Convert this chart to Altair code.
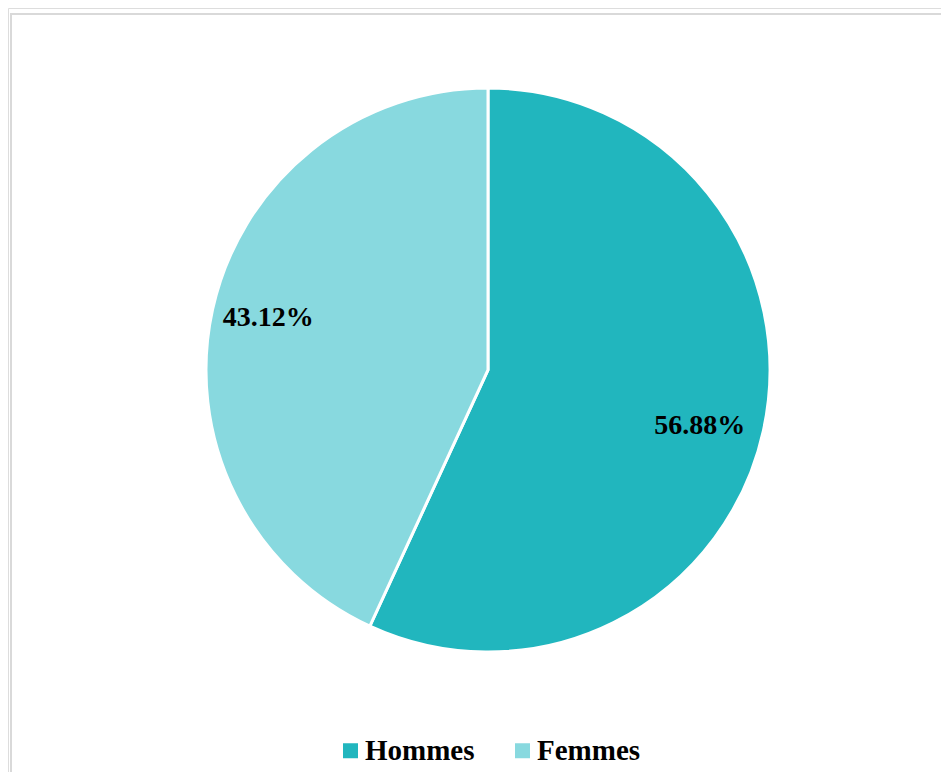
import altair as alt
import pandas as pd

categories = ["Hommes", "Femmes"]
values = [56.88, 43.12]
labels = ["56.88%", "43.12%"]
colors = ["#21B6BE", "#88D9DF"]
order = [0, 1]

df = pd.DataFrame({"cat": categories, "value": values, "label": labels, "ord": order})

W, H = 933, 764
CX, CY = 480, 362
R = 282
FONT = "Liberation Serif"

theta_scale = alt.Scale(domain=[0, 100], range=[0, 6.283185307179586])

base = (
    alt.Chart(df)
    .transform_window(end="sum(value)", sort=[alt.SortField("ord")])
    .transform_calculate(start="datum.end - datum.value", mid="datum.end - datum.value / 2")
)

pie = base.mark_arc(outerRadius=R, stroke="white", strokeWidth=3, x=CX, y=CY).encode(
    theta=alt.Theta("start:Q", scale=theta_scale),
    theta2="end:Q",
    color=alt.Color(
        "cat:N",
        scale=alt.Scale(domain=categories, range=colors),
        sort=categories,
        legend=alt.Legend(
            title=None,
            orient="none",
            direction="horizontal",
            legendX=328,
            legendY=728,
            symbolType="square",
            symbolSize=225,
            symbolStrokeWidth=0,
            symbolOpacity=1,
            labelFont=FONT,
            labelFontWeight="bold",
            labelFontSize=29,
            labelColor="black",
            labelOffset=0,
            columnPadding=33,
            labelLimit=300,
        ),
    ),
)

text_props = dict(radius=221, x=CX, y=CY, font=FONT, fontWeight="bold", fontSize=28, color="black")
text_h = (
    base.transform_filter(alt.datum.cat == "Hommes")
    .mark_text(dx=-4, dy=9, **text_props)
    .encode(theta=alt.Theta("mid:Q", scale=theta_scale), text="label:N")
)
text_f = (
    base.transform_filter(alt.datum.cat == "Femmes")
    .mark_text(dx=-4, dy=-5, **text_props)
    .encode(theta=alt.Theta("mid:Q", scale=theta_scale), text="label:N")
)

frame = alt.Chart(pd.DataFrame({"a": [0]})).mark_rect(
    fill="transparent", stroke="#d9d9d9", strokeWidth=2
).encode(
    x=alt.value(3), y=alt.value(6), x2=alt.value(1500), y2=alt.value(1500)
)

chart = (
    alt.layer(frame, pie, text_h, text_f)
    .properties(width=W, height=H, autosize=alt.AutoSizeParams(type="none"), padding=0)
    .configure_view(stroke="transparent")
    .configure(background="white")
)

chart.save("out.html", embed_options={"renderer": "svg", "actions": False})
